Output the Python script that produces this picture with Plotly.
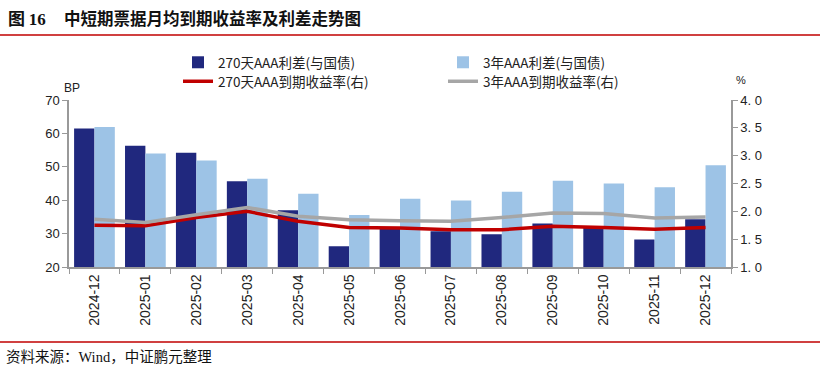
import plotly.graph_objects as go

months = ["2024-12", "2025-01", "2025-02", "2025-03", "2025-04", "2025-05", "2025-06",
          "2025-07", "2025-08", "2025-09", "2025-10", "2025-11", "2025-12"]
spread_270d = [61.5, 56.3, 54.2, 45.7, 37.0, 26.2, 31.8, 30.7, 29.8, 33.0, 32.3, 28.2, 34.3]
spread_3y = [61.9, 54.0, 51.9, 46.4, 41.9, 35.6, 40.4, 39.9, 42.5, 45.8, 45.0, 43.9, 50.5]
yield_270d = [1.75, 1.74, 1.89, 2.00, 1.82, 1.71, 1.70, 1.67, 1.67, 1.73, 1.71, 1.68, 1.71]
yield_3y = [1.86, 1.80, 1.94, 2.07, 1.91, 1.85, 1.83, 1.82, 1.89, 1.97, 1.96, 1.88, 1.90]

names = ["270天AAA利差(与国债)", "3年AAA利差(与国债)", "270天AAA到期收益率(右)", "3年AAA到期收益率(右)"]
left_ticks = [20, 30, 40, 50, 60, 70]
right_ticks = [1.0, 1.5, 2.0, 2.5, 3.0, 3.5, 4.0]

CJK = "Noto Sans CJK SC"
SANS = "Liberation Sans"

W, H = 820, 371
L, R, T, B = 69, 89, 100, 104
PW, PH = W - L - R, H - T - B

fig = go.Figure()
fig.add_trace(go.Bar(x=months, y=spread_270d, name=names[0], marker_color="#20287E",
                     marker_line_width=0, legend="legend"))
fig.add_trace(go.Bar(x=months, y=spread_3y, name=names[1], marker_color="#9DC3E6",
                     marker_line_width=0, legend="legend"))
fig.add_trace(go.Scatter(x=months, y=yield_270d, name=names[2], yaxis="y2", mode="lines",
                         line=dict(color="#C00000", width=3.5), legend="legend2"))
fig.add_trace(go.Scatter(x=months, y=yield_3y, name=names[3], yaxis="y2", mode="lines",
                         line=dict(color="#A6A6A6", width=3.5), legend="legend2"))

leg_common = dict(orientation="h", xref="container", yref="container",
                  x=178 / W, xanchor="left", yanchor="top",
                  entrywidth=220, entrywidthmode="pixels", tracegroupgap=0,
                  font=dict(family=CJK, size=13.5, color="#222"),
                  bgcolor="rgba(0,0,0,0)", itemwidth=30)

fig.update_layout(
    width=W, height=H,
    margin=dict(l=L, r=R, t=T, b=B, autoexpand=False),
    paper_bgcolor="white", plot_bgcolor="white",
    barmode="group", bargap=0.2, bargroupgap=0,
    font=dict(family=SANS, size=13, color="#222"),
    showlegend=True,
    legend=dict(y=1 - 47 / H, **leg_common),
    legend2=dict(y=1 - 66 / H, **leg_common),
    xaxis=dict(type="category", tickangle=-90, tickson="boundaries", ticks="outside",
               ticklen=5, tickcolor="#999", showline=True, linecolor="#999", linewidth=1.5,
               showgrid=False, automargin=False,
               tickfont=dict(family=SANS, size=14, color="#222")),
    yaxis=dict(range=[20, 70], tickvals=left_ticks, ticks="outside", ticklen=5, tickcolor="#999",
               showline=True, linecolor="#999", linewidth=1.5, showgrid=False, zeroline=False,
               automargin=False, tickfont=dict(family=SANS, size=13, color="#222")),
    yaxis2=dict(range=[1.0, 4.0], tickvals=right_ticks,
                ticktext=[f"{v:.1f}".replace(".", ". ") for v in right_ticks],
                overlaying="y", side="right", ticks="outside", ticklen=5, tickcolor="#999",
                showline=True, linecolor="#999", linewidth=1.5, showgrid=False, zeroline=False,
                automargin=False, tickfont=dict(family=SANS, size=13, color="#222")),
)

def px(xp):
    return (xp - L) / PW

def py(yp):
    return (H - B - yp) / PH

fig.add_annotation(text="<b>图 </b><b><span style='font-family:Liberation Serif'>16</span></b>",
                   xref="paper", yref="paper", x=px(6), y=py(18), xanchor="left", yanchor="middle",
                   showarrow=False, font=dict(family=CJK, size=17, color="#111"))
fig.add_annotation(text="<b>中短期票据月均到期收益率及利差走势图</b>", xref="paper", yref="paper",
                   x=px(62), y=py(18), xanchor="left", yanchor="middle",
                   showarrow=False, font=dict(family=CJK, size=16.5, color="#111"))
fig.add_annotation(text="BP", xref="paper", yref="paper", x=px(72), y=py(88),
                   xanchor="center", yanchor="middle", showarrow=False,
                   font=dict(family=SANS, size=12, color="#222"))
fig.add_annotation(text="%", xref="paper", yref="paper", x=px(741), y=py(80),
                   xanchor="center", yanchor="middle", showarrow=False,
                   font=dict(family=SANS, size=11, color="#222"))
fig.add_annotation(text="资料来源：<span style='font-family:Liberation Serif'>Wind</span>，中证鹏元整理",
                   xref="paper", yref="paper",
                   x=px(4), y=py(355), xanchor="left", yanchor="middle",
                   showarrow=False, font=dict(family=CJK, size=14.5, color="#111"))
fig.add_shape(type="line", xref="paper", yref="paper", x0=px(0), x1=px(W),
              y0=py(35), y1=py(35), line=dict(color="#C00000", width=1.5))
fig.add_shape(type="line", xref="paper", yref="paper", x0=px(0), x1=px(W),
              y0=py(342), y1=py(342), line=dict(color="#C00000", width=1.5))

fig.write_html("out.html", config={"displayModeBar": False},
               post_script="document.body.style.margin='0';document.body.style.overflow='hidden';")
